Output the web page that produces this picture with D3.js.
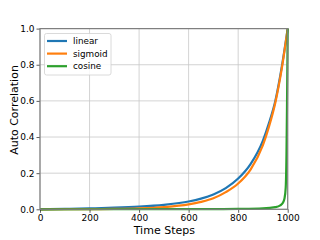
<!DOCTYPE html>
<html>
<head>
<meta charset="utf-8">
<script src="https://cdn.jsdelivr.net/npm/d3@7"></script>
<style>
  body { margin: 0; background: #fff; }
  svg { display: block; font-family: "DejaVu Sans", sans-serif; }
</style>
</head>
<body>
<svg id="chart" width="320" height="240"></svg>
<script>
const linearT = [0, 100, 200, 300, 400, 500, 600, 650, 700, 750, 800, 850, 900, 925, 950, 975, 1000];
const linearV = [0, 0.002, 0.005, 0.009, 0.015, 0.025, 0.043, 0.059, 0.082, 0.117, 0.17, 0.25, 0.38, 0.48, 0.6, 0.78, 1.0];

const sigmoidT = [0, 200, 300, 400, 500, 600, 650, 700, 750, 800, 850, 900, 925, 950, 975, 1000];
const sigmoidV = [0, 0.001, 0.002, 0.005, 0.012, 0.027, 0.041, 0.061, 0.095, 0.143, 0.22, 0.355, 0.46, 0.59, 0.77, 1.0];

const cosineT = [0, 500, 700, 800, 900, 950, 970, 980, 987, 992, 995, 997, 999, 1000];
const cosineV = [0, 0.0005, 0.001, 0.002, 0.005, 0.012, 0.022, 0.035, 0.06, 0.12, 0.3, 0.55, 0.85, 1.0];

const xTicks = [0, 200, 400, 600, 800, 1000];
const yTicks = [0, 0.2, 0.4, 0.6, 0.8, 1.0];

const series = [
  { name: "linear", t: linearT, v: linearV, color: "#1f77b4" },
  { name: "sigmoid", t: sigmoidT, v: sigmoidV, color: "#ff7f0e" },
  { name: "cosine", t: cosineT, v: cosineV, color: "#2ca02c" }
];

(function () {
  const svg = d3.select("#chart");
  const pl = 40, pr = 287.7, pt = 28.6, pb = 209.3;

  const x = d3.scaleLinear().domain([0, 1000]).range([pl, pr]);
  const y = d3.scaleLinear().domain([0, 1]).range([pb, pt]);

  // grid
  svg.append("g")
    .selectAll("line")
    .data(xTicks)
    .join("line")
    .attr("x1", d => x(d)).attr("x2", d => x(d))
    .attr("y1", pt).attr("y2", pb)
    .attr("stroke", "#c8c8c8").attr("stroke-width", 0.8);

  svg.append("g")
    .selectAll("line")
    .data(yTicks)
    .join("line")
    .attr("x1", pl).attr("x2", pr)
    .attr("y1", d => y(d)).attr("y2", d => y(d))
    .attr("stroke", "#c8c8c8").attr("stroke-width", 0.8);

  // curves
  const line = d3.line().x(d => x(d[0])).y(d => y(d[1])).curve(d3.curveMonotoneX);
  svg.append("g")
    .selectAll("path")
    .data(series)
    .join("path")
    .attr("d", s => line(s.t.map((t, i) => [t, s.v[i]])))
    .attr("fill", "none")
    .attr("stroke", s => s.color)
    .attr("stroke-width", 2.2);

  // axes
  const xAxis = svg.append("g")
    .attr("transform", `translate(0,${pb})`)
    .call(d3.axisBottom(x).tickValues(xTicks).tickSize(3.5).tickPadding(1.5).tickFormat(d3.format("d")));
  const yAxis = svg.append("g")
    .attr("transform", `translate(${pl},0)`)
    .call(d3.axisLeft(y).tickValues(yTicks).tickSize(3.5).tickPadding(2).tickFormat(d3.format(".1f")));

  [xAxis, yAxis].forEach(g => {
    g.select(".domain").remove();
    g.selectAll(".tick line").attr("stroke", "#333").attr("stroke-width", 0.8);
    g.selectAll(".tick text").attr("font-size", 9).attr("fill", "#000")
      .attr("font-family", "DejaVu Sans");
  });

  // spines
  svg.append("rect")
    .attr("x", pl).attr("y", pt)
    .attr("width", pr - pl).attr("height", pb - pt)
    .attr("fill", "none").attr("stroke", "#7f7f7f").attr("stroke-width", 1.2);

  // labels
  svg.append("text")
    .attr("x", (pl + pr) / 2 + 0.5).attr("y", 233.5)
    .attr("text-anchor", "middle").attr("font-size", 11)
    .text("Time Steps");

  svg.append("text")
    .attr("transform", `translate(17.5,110) rotate(-90)`)
    .attr("text-anchor", "middle").attr("font-size", 11)
    .text("Auto Correlation");

  // legend
  const legend = svg.append("g");
  legend.append("rect")
    .attr("x", 44.5).attr("y", 33.5).attr("width", 66.5).attr("height", 41.5)
    .attr("rx", 2).attr("fill", "#fff").attr("fill-opacity", 0.85)
    .attr("stroke", "#d0d0d0").attr("stroke-width", 0.8);

  const items = legend.selectAll("g")
    .data(series)
    .join("g")
    .attr("transform", (d, i) => `translate(0,${41 + i * 12.6})`);
  items.append("line")
    .attr("x1", 47).attr("x2", 67)
    .attr("stroke", d => d.color).attr("stroke-width", 2.2);
  items.append("text")
    .attr("x", 73).attr("y", 3.2)
    .attr("font-size", 8.8)
    .text(d => d.name);
})();
</script>
</body>
</html>
